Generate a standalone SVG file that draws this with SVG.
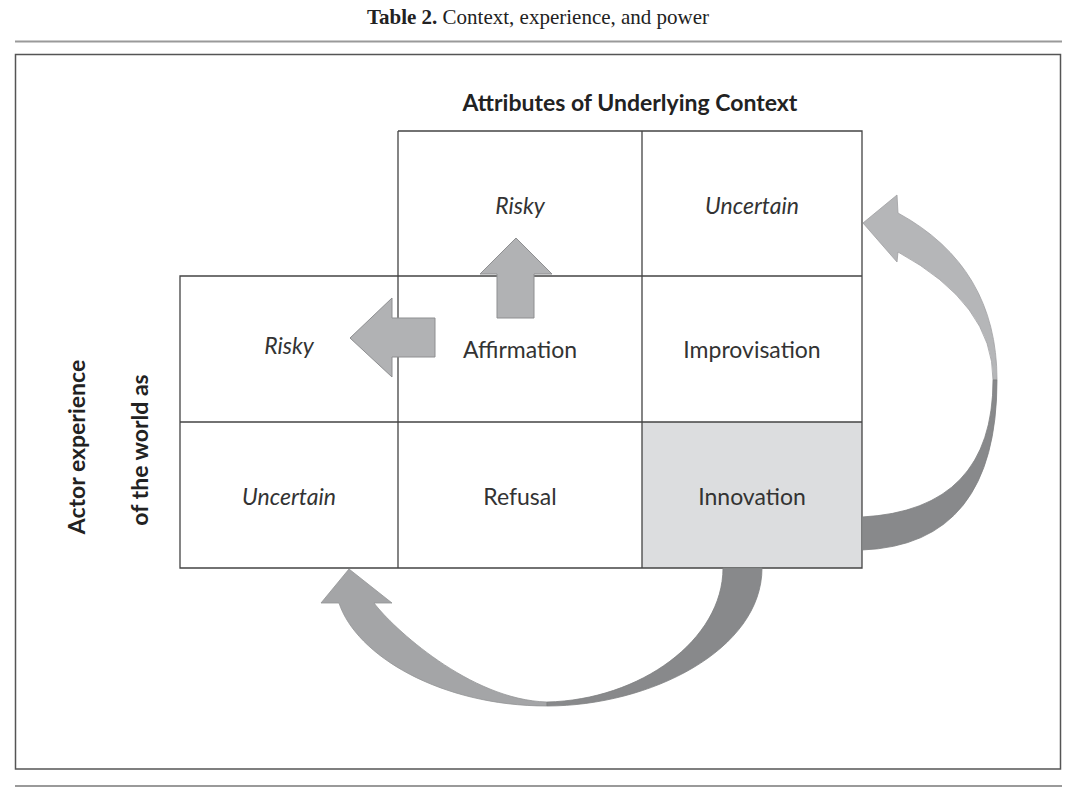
<svg xmlns="http://www.w3.org/2000/svg" width="1080" height="798" viewBox="0 0 1080 798">
<style>
.title{font-family:"Liberation Serif",serif;font-size:21px;fill:#222}
.head{font-family:Lato,"Open Sans",sans-serif;font-weight:bold;font-size:23px;fill:#222}
.cell{font-family:Lato,"Open Sans",sans-serif;font-size:23px;fill:#333;text-anchor:middle}
.it{font-style:italic}
.grid{fill:none;stroke:#444;stroke-width:1.3}
.rule{stroke:#9a9a9a;stroke-width:2}
.sarrow{fill:#b1b2b4;stroke:#8e8f91;stroke-width:1}
.light{fill:#b5b6b8;stroke:#9fa0a2;stroke-width:0.8}
.mid{fill:#a4a5a7;stroke:#939496;stroke-width:0.8}
.dark{fill:#88898b;stroke:#7f8082;stroke-width:0.8}
</style>
<rect width="1080" height="798" fill="#fff"/>
<text class="title" x="538" y="24" text-anchor="middle"><tspan font-weight="bold">Table 2.</tspan> Context, experience, and power</text>
<line class="rule" x1="15" y1="41.5" x2="1062" y2="41.5"/>
<rect x="15.5" y="54.5" width="1045" height="714.5" fill="none" stroke="#555" stroke-width="1.5"/>
<line class="rule" x1="15" y1="786" x2="1062" y2="786"/>

<g id="heading">
<text class="head" x="630" y="111" text-anchor="middle">Attributes of Underlying Context</text>
</g>
<g id="side-label">
<text class="head" transform="translate(85,447) rotate(-90)" text-anchor="middle">Actor experience</text>
<text class="head" transform="translate(148,450) rotate(-90)" text-anchor="middle">of the world as</text>
</g>

<g id="cell-innovation">
<rect x="642" y="422" width="220" height="146" fill="#dcdddf"/>
</g>

<g id="grid">
<path class="grid" d="M398,131 H862 V568 H180 V276 H862 M180,422 H862 M398,131 V568 M642,131 V568"/>
</g>

<g id="cell-risky-top"><text class="cell it" x="520" y="214">Risky</text></g>
<g id="cell-uncertain-top"><text class="cell it" x="752" y="214">Uncertain</text></g>
<g id="cell-risky-left"><text class="cell it" x="289" y="354">Risky</text></g>
<g id="cell-uncertain-left"><text class="cell it" x="289" y="505">Uncertain</text></g>
<g id="cell-affirmation"><text class="cell" x="520" y="358">Affirmation</text></g>
<g id="cell-improvisation"><text class="cell" x="752" y="358">Improvisation</text></g>
<g id="cell-refusal"><text class="cell" x="520" y="505">Refusal</text></g>
<g id="cell-innovation-label"><text class="cell" x="752" y="505">Innovation</text></g>

<g id="connectors">
<polygon class="sarrow" points="497,318 534,318 534,274 552,274 516,238 480,274 497,274"/>
<polygon class="sarrow" points="435,318 392,318 392,298 350,338 392,377 392,357 435,357"/>
<path class="light" d="M898,213 L897,195 L863,223 L897,262 L898,252 Q993,304 993,380 L997,380 Q997,267 898,213 Z"/>
<path class="dark" d="M997,380 Q997,545 862,550 L862,517 Q993,510 993,380 Z"/>
<path class="mid" d="M339,603 L321,603 L349,569 L392,603 L374,603 C392,627 470,700 547,702 L547,706 C440,706 356,655 339,603 Z"/>
<path class="dark" d="M547,706 C650,706 762,650 762,568 L723,568 C723,640 640,700 547,702 Z"/>
</g>
</svg>
